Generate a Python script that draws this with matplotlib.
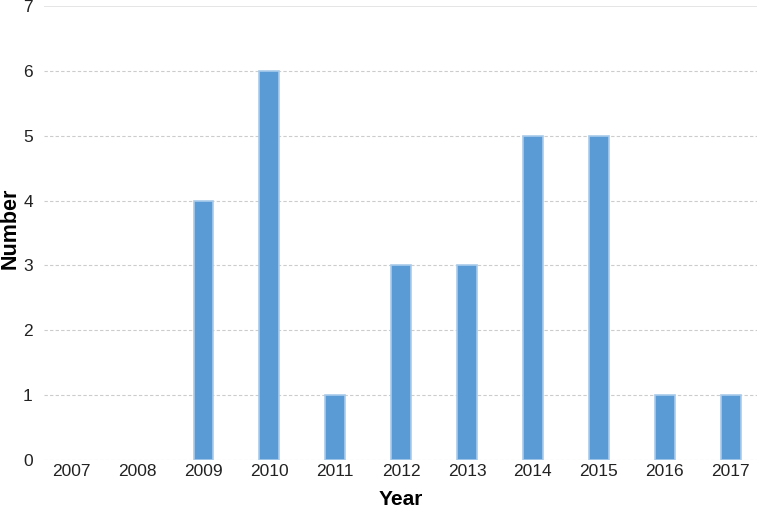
import numpy as np
import matplotlib.pyplot as plt

plt.rcParams['font.family'] = ['Liberation Sans', 'DejaVu Sans']

years = ['2007', '2008', '2009', '2010', '2011', '2012', '2013', '2014', '2015', '2016', '2017']
counts = [0, 0, 4, 6, 1, 3, 3, 5, 5, 1, 1]

fig = plt.figure(figsize=(7.57, 5.09), dpi=100)
ax = fig.add_axes([0.058, 0.0963, 0.942, 0.8919])

x = np.arange(len(years))
bars = ax.bar(x, counts, width=0.3, color='#5B9BD5', edgecolor='#A9CBEB', linewidth=1.2, zorder=3)
for b, c in zip(bars, counts):
    if c == 0:
        b.set_linewidth(0)

ax.set_xlim(-0.42, len(years) - 0.6)
ax.set_ylim(0, 7)
ax.set_xticks(x)
ax.set_xticklabels(years)
ax.set_yticks(range(8))

for y in range(7):
    ax.axhline(y, color='#cccccc', linestyle=(0, (3, 2)), linewidth=0.8, zorder=1)
ax.axhline(7, color='#e0e0e0', linestyle='-', linewidth=1.2, zorder=1)

for s in ax.spines.values():
    s.set_visible(False)
ax.tick_params(axis='both', length=0, labelsize=12.5, colors='#222222')
ax.tick_params(axis='x', pad=3)
ax.tick_params(axis='y', pad=8)

ax.set_xlabel('Year', fontsize=15, fontweight='bold')
ax.set_ylabel('Number', fontsize=15.5, fontweight='bold')
ax.xaxis.set_label_coords(0.5, -0.066)
ax.yaxis.set_label_coords(-0.032, 0.51)

fig.savefig('out.png', dpi=100)
